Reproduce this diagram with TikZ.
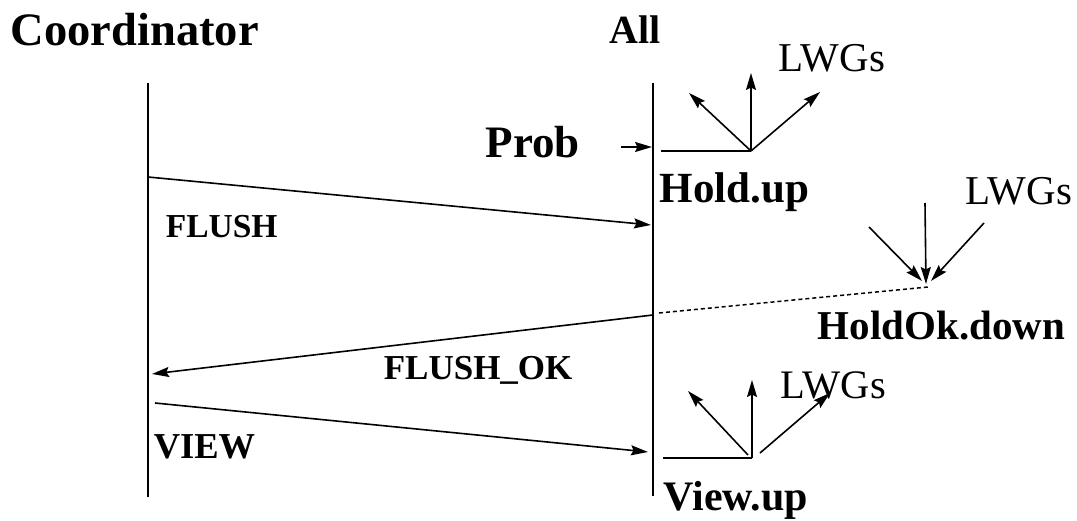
\documentclass[tikz,border=0pt]{standalone}
\usepackage{fontspec}
\setmainfont{Liberation Serif}
\usetikzlibrary{arrows.meta}
\begin{document}
\begin{tikzpicture}[x=1pt,y=-1pt,line width=1.6pt,
  msg/.style={-{Stealth[length=17pt,width=10pt,inset=2.5pt]}},
  life/.style={line width=1.6pt},
  dotline/.style={line width=1.5pt,dash pattern=on 4pt off 3pt},
  blbl/.style={inner sep=0pt,anchor=base west,font=\bfseries\fontsize{#1}{#1}\selectfont},
  nlbl/.style={inner sep=0pt,anchor=base west,font=\fontsize{#1}{#1}\selectfont}]
\useasboundingbox (0,0) rectangle (1077,521);
% labels
\node[blbl=46.5] (coord) at (10,46) {Coordinator};
\node[blbl=40] (all) at (609,44) {All};
\node[nlbl=41] (lwg1) at (778,72) {LWGs};
\node[blbl=45] (prob) at (485,158) {Prob};
\node[blbl=43] (holdup) at (659,203) {Hold.up};
\node[blbl=33.5] (flush) at (165,238) {FLUSH};
\node[nlbl=41] (lwg2) at (965,205) {LWGs};
\node[blbl=41] (holdok) at (817,340) {HoldOk.down};
\node[blbl=35] (flushok) at (383,380) {FLUSH\_OK};
\node[nlbl=40.5] (lwg3) at (780,399) {LWGs};
\node[blbl=36.5] (view) at (153,458) {VIEW};
\node[blbl=42] (viewup) at (663,510) {View.up};
% lifelines
\coordinate (lt) at (148,83); \coordinate (lb) at (148,497);
\coordinate (rt) at (653,83); \coordinate (rb) at (653,496);
\draw[life] (lt) -- (lb);
\draw[life] (rt) -- (rb);
% FLUSH
\coordinate (f1) at (148,177); \coordinate (f2) at (651,225);
\draw[msg] (f1) -- (f2);
% Prob
\coordinate (p1) at (621,147); \coordinate (p2) at (652,147);
\draw[msg] (p1) -- (p2);
% Hold.up fan
\coordinate (h0) at (661,151); \coordinate (hb) at (751,151);
\coordinate (ha) at (689,93); \coordinate (hv) at (751,73); \coordinate (hc) at (820,92);
\draw (h0) -- (hb);
\draw[msg] (hb) -- (ha);
\draw[msg] (hb) -- (hv);
\draw[msg] (hb) -- (hc);
% FLUSH_OK
\coordinate (k1) at (653,315); \coordinate (k2) at (152,374);
\draw[msg] (k1) -- (k2);
% dotted
\coordinate (d1) at (659,313); \coordinate (d2) at (928,287);
\draw[dotline] (d1) -- (d2);
% HoldOk converging
\coordinate (q1) at (869,227); \coordinate (q1e) at (922,281);
\coordinate (q2) at (925,203); \coordinate (q2e) at (926,284);
\coordinate (q3) at (984,223); \coordinate (q3e) at (931,281);
\draw[msg] (q1) -- (q1e);
\draw[msg] (q2) -- (q2e);
\draw[msg] (q3) -- (q3e);
% VIEW
\coordinate (v1) at (155,403); \coordinate (v2) at (648,452);
\draw[msg] (v1) -- (v2);
% View.up fan
\coordinate (w0) at (663,458); \coordinate (wb) at (752,458);
\coordinate (wv) at (752,380); \coordinate (wl0) at (748,455); \coordinate (wl) at (688,391);
\coordinate (wr0) at (760,453); \coordinate (wr) at (830,393);
\draw (w0) -- (wb);
\draw[msg] (wb) -- (wv);
\draw[msg] (wl0) -- (wl);
\draw[msg] (wr0) -- (wr);
\end{tikzpicture}
\end{document}
